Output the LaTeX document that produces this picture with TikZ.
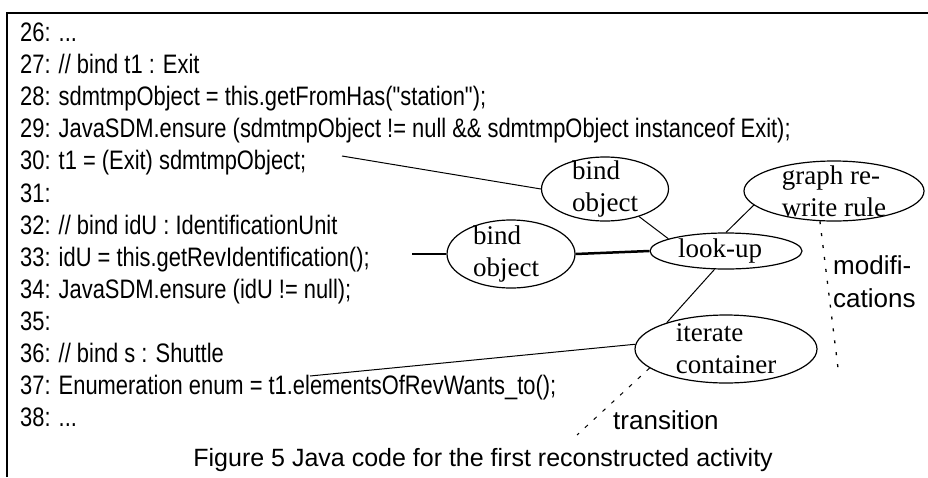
\documentclass[tikz,border=0pt]{standalone}
\usepackage{fontspec}
\setmainfont{Liberation Serif}
\newfontfamily\codefont[FakeStretch=0.82]{Liberation Sans}
\newfontfamily\capfont{Liberation Sans}
\usetikzlibrary{shapes.geometric}
\begin{document}
\begin{tikzpicture}[x=1pt,y=-1pt,
  codeline/.style={anchor=base west,inner sep=0pt,font=\codefont\fontsize{26.7}{32}\selectfont},
  ell/.style={draw,ellipse,line width=1.2pt,inner sep=0pt},
  elltext/.style={inner sep=0pt,align=left,font=\fontsize{27}{32}\selectfont},
  sanslab/.style={inner sep=0pt,align=left,font=\capfont\fontsize{26}{33}\selectfont},
  captext/.style={inner sep=0pt,font=\capfont\fontsize{25}{30}\selectfont},
  conn/.style={line width=1pt},
  thickconn/.style={line width=2.5pt},
  dotline/.style={line width=1.3pt,dash pattern=on 3pt off 9pt},
  dashline/.style={line width=1pt,dash pattern=on 4pt off 8pt}]
\useasboundingbox (0,0) rectangle (928,477);
% frame
\draw[line width=1.3pt] (7,477) -- (7,13) -- (928,13);
% code
\node[codeline] (l26) at (20,41.5) {26: ...};
\node[codeline] (l27) at (20,73.6) {27: // bind t1 : Exit};
\node[codeline] (l28) at (20,105.7) {28: sdmtmpObject = this.getFromHas("station");};
\node[codeline] (l29) at (20,137.8) {29: JavaSDM.ensure (sdmtmpObject != null \&\& sdmtmpObject instanceof Exit);};
\node[codeline] (l30) at (20,169.9) {30: t1 = (Exit) sdmtmpObject;};
\node[codeline] (l31) at (20,202.0) {31:};
\node[codeline] (l32) at (20,234.1) {32: // bind idU : IdentificationUnit};
\node[codeline] (l33) at (20,266.2) {33: idU = this.getRevIdentification();};
\node[codeline] (l34) at (20,298.3) {34: JavaSDM.ensure (idU != null);};
\node[codeline] (l35) at (20,330.4) {35:};
\node[codeline] (l36) at (20,362.5) {36: // bind s : Shuttle};
\node[codeline] (l37) at (20,394.6) {37: Enumeration enum = t1.elementsOfRevWants\_to();};
\node[codeline] (l38) at (20,426.7) {38: ...};
% ellipses
\node[ell,minimum width=127,minimum height=64,label={[elltext]center:{bind\\object}}] (b1) at (605,189) {};
\node[ell,minimum width=128,minimum height=68,label={[elltext,xshift=-5pt]center:{bind\\object}}] (b2) at (511,254) {};
\node[ell,minimum width=152,minimum height=36,label={[elltext,xshift=-6pt]center:{look-up}}] (lu) at (726,251) {};
\node[ell,minimum width=180,minimum height=60,label={[elltext]center:{graph re-\\write rule}}] (gr) at (834,191) {};
\node[ell,minimum width=182,minimum height=68,label={[elltext]center:{iterate\\container}}] (it) at (726,349) {};
% free ends
\coordinate (c30) at (342,156);
\coordinate (c33) at (412,254);
\coordinate (c37) at (310,376);
\coordinate (cmod) at (838,368);
\coordinate (ctr) at (577,435);
% connectors
\draw[conn] (c30) -- (b1.west);
\draw[conn] (b1.-39) -- (lu.168);
\draw[thickconn] (c33) -- (b2.west);
\draw[thickconn] (b2.east) -- (lu.west);
\draw[conn] (gr.190) -- (lu.north);
\draw[conn] (lu.238) -- (it.156);
\draw[conn] (c37) -- (it.177);
\draw[dotline] (gr.245) -- (cmod);
\draw[dashline] (it.194) -- (ctr);
% labels
\node[sanslab,anchor=west] (mod) at (833,282) {modifi-\\cations};
\node[sanslab,anchor=base west] (tr) at (613,429) {transition};
\node[captext,anchor=base east] (cap) at (773,466) {Figure 5 Java code for the first reconstructed activity};
\end{tikzpicture}
\end{document}
